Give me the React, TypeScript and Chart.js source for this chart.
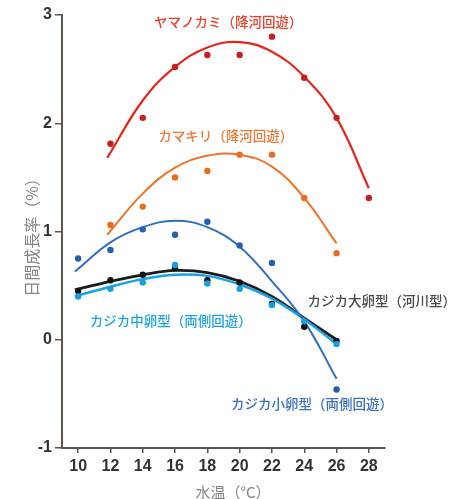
import { useEffect, useRef } from "react";
import { Chart, registerables } from "chart.js";

Chart.register(...registerables);

// Axis ticks
const xTicks = [10, 12, 14, 16, 18, 20, 22, 24, 26, 28];
const yTicks = [-1, 0, 1, 2, 3];

// Measured daily growth rate (%) by water temperature (°C)
const yamanokamiTemp = [12, 14, 16, 18, 20, 22, 24, 26, 28];
const yamanokamiRate = [1.81, 2.05, 2.52, 2.63, 2.63, 2.8, 2.42, 2.05, 1.31];

const kamakiriTemp = [12, 14, 16, 18, 20, 22, 24, 26];
const kamakiriRate = [1.06, 1.23, 1.5, 1.56, 1.71, 1.71, 1.31, 0.8];

const smallEggTemp = [10, 12, 14, 16, 18, 20, 22, 26];
const smallEggRate = [0.75, 0.83, 1.02, 0.97, 1.09, 0.87, 0.71, -0.46];

const largeEggTemp = [10, 12, 14, 16, 18, 20, 22, 24, 26];
const largeEggRate = [0.45, 0.55, 0.6, 0.66, 0.55, 0.53, 0.33, 0.12, -0.01];

const midEggTemp = [10, 12, 14, 16, 18, 20, 22, 24, 26];
const midEggRate = [0.4, 0.47, 0.53, 0.69, 0.52, 0.47, 0.32, 0.17, -0.04];

// Fitted regression curves
const yamanokamiFitTemp = [11.8, 14, 16, 18, 20, 22, 24, 26, 28];
const yamanokamiFit = [1.68, 2.21, 2.52, 2.7, 2.75, 2.66, 2.43, 2.05, 1.4];

const kamakiriFitTemp = [11.8, 14, 16, 18, 20, 22, 24, 26];
const kamakiriFit = [0.97, 1.35, 1.59, 1.7, 1.71, 1.6, 1.31, 0.89];

const kajikaFitTemp = [9.8, 12, 14, 16, 18, 20, 22, 24, 26];
const smallEggFit = [0.63, 0.9, 1.04, 1.1, 1.04, 0.86, 0.54, 0.17, -0.36];
const largeEggFit = [0.46, 0.54, 0.6, 0.64, 0.62, 0.54, 0.4, 0.2, 0.0];
const midEggFit = [0.4, 0.49, 0.56, 0.6, 0.59, 0.51, 0.38, 0.19, -0.04];

// Series names, anchored in data units (temperature, rate)
const seriesNames = [
  { text: "ヤマノカミ（降河回遊）", color: "#e8432b", at: [19.3, 2.94] },
  { text: "カマキリ（降河回遊）", color: "#ef7a35", at: [19.14, 1.88] },
  { text: "カジカ大卵型（河川型）", color: "#4a4a4a", at: [28.8, 0.36] },
  { text: "カジカ中卵型（両側回遊）", color: "#1ea4e2", at: [15.74, 0.17] },
  { text: "カジカ小卵型（両側回遊）", color: "#3b6fbf", at: [24.48, -0.59] },
];

const xTitle = "水温（°C）";
const yTitle = "日間成長率（%）";

const AXIS = "#5d544d";
const RED = "#e3261c";
const ORANGE = "#ee7427";
const BLUE = "#2f6ec0";
const CYAN = "#18a3e3";
const BLACK = "#1c1c1c";
const TITLE_GRAY = "#858585";

const pairs = (xs: number[], ys: number[]) => xs.map((x, i) => ({ x, y: ys[i] }));

const dots = (xs: number[], ys: number[], color: string) => ({
  data: pairs(xs, ys),
  showLine: false,
  pointRadius: 3.2,
  pointHoverRadius: 3.2,
  pointBackgroundColor: color,
  pointBorderWidth: 0,
  borderColor: color,
});

const curve = (xs: number[], ys: number[], color: string, width: number) => ({
  data: pairs(xs, ys),
  showLine: true,
  tension: 0.4,
  pointRadius: 0,
  borderColor: color,
  borderWidth: width,
  backgroundColor: color,
  fill: false,
});

// Series names next to their curves, plus the two axis titles
const annotations = {
  id: "annotations",
  afterDatasetsDraw(chart: any) {
    const { ctx, scales, chartArea } = chart;
    ctx.save();
    ctx.font = "500 13.5px 'Noto Sans CJK JP'";
    ctx.textAlign = "center";
    ctx.textBaseline = "middle";
    for (const n of seriesNames) {
      ctx.fillStyle = n.color;
      ctx.fillText(n.text, scales.x.getPixelForValue(n.at[0]), scales.y.getPixelForValue(n.at[1]));
    }

    ctx.fillStyle = TITLE_GRAY;
    ctx.font = "15px 'Noto Sans CJK JP'";
    ctx.fillText(xTitle, chartArea.left + 171, chartArea.bottom + 44);

    ctx.font = "16px 'Noto Sans CJK JP'";
    ctx.translate(chartArea.left - 30, (chartArea.top + chartArea.bottom) / 2 + 2);
    ctx.rotate(-Math.PI / 2);
    ctx.fillText(yTitle, 0, 0);
    ctx.restore();
  },
};

export default function App() {
  const ref = useRef<HTMLCanvasElement | null>(null);

  useEffect(() => {
    if (!ref.current) return;
    const chart = new Chart(ref.current, {
      type: "scatter",
      data: {
        datasets: [
          dots(midEggTemp, midEggRate, "#16a0e0"),
          dots(largeEggTemp, largeEggRate, "#111111"),
          dots(smallEggTemp, smallEggRate, "#225fb3"),
          dots(kamakiriTemp, kamakiriRate, "#eb6c1e"),
          dots(yamanokamiTemp, yamanokamiRate, "#c81e1e"),
          curve(kajikaFitTemp, smallEggFit, BLUE, 2),
          curve(kajikaFitTemp, midEggFit, CYAN, 2.5),
          curve(kajikaFitTemp, largeEggFit, BLACK, 2.8),
          curve(kamakiriFitTemp, kamakiriFit, ORANGE, 2),
          curve(yamanokamiFitTemp, yamanokamiFit, RED, 2.2),
        ] as any,
      },
      options: {
        animation: false,
        responsive: false,
        layout: { padding: { left: 0, top: 15, right: 79, bottom: 0 } },
        plugins: { legend: { display: false }, tooltip: { enabled: false } },
        scales: {
          x: {
            type: "linear",
            min: 9,
            max: 29,
            afterBuildTicks: (axis: any) => {
              axis.ticks = xTicks.map((v) => ({ value: v }));
            },
            afterFit: (s: any) => {
              s.height = 51;
            },
            ticks: {
              autoSkip: false,
              maxRotation: 0,
              padding: 4,
              color: "#333",
              font: { family: "'Liberation Sans', Arial, sans-serif", size: 16, weight: "bold" },
            },
            grid: { drawOnChartArea: false, tickLength: 5, color: AXIS, lineWidth: 1.5 },
            border: { color: AXIS, width: 2 },
          },
          y: {
            type: "linear",
            min: -1,
            max: 3,
            afterBuildTicks: (axis: any) => {
              axis.ticks = yTicks.map((v) => ({ value: v }));
            },
            afterFit: (s: any) => {
              s.width = 62;
            },
            ticks: {
              padding: 3,
              color: "#333",
              font: { family: "'Liberation Sans', Arial, sans-serif", size: 16, weight: "bold" },
            },
            grid: { drawOnChartArea: false, tickLength: 7, color: AXIS, lineWidth: 1.5 },
            border: { color: AXIS, width: 2 },
          },
        },
      } as any,
      plugins: [annotations],
    });
    return () => chart.destroy();
  }, []);

  return (
    <div style={{ position: "fixed", left: 0, top: 0, width: 464, height: 499, background: "#fff" }}>
      <canvas ref={ref} width={464} height={499} style={{ display: "block" }} />
    </div>
  );
}
